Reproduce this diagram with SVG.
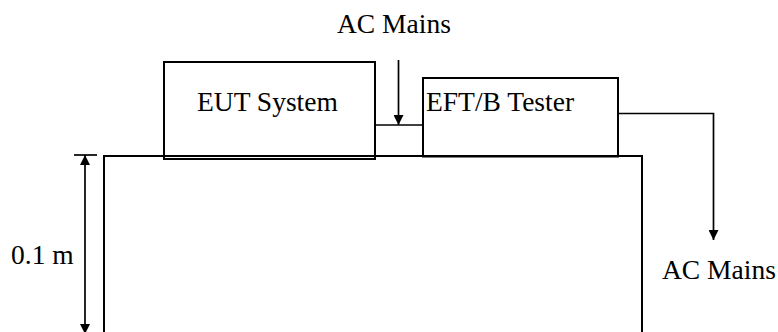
<svg xmlns="http://www.w3.org/2000/svg" width="778" height="332" viewBox="0 0 778 332">
  <style>
    .box { fill: none; stroke: #000; stroke-width: 2; }
    .wire { fill: none; stroke: #000; stroke-width: 1.7; }
    .lbl { font-family: "Liberation Serif", "Times New Roman", serif; font-size: 27.5px; fill: #000; }
  </style>
  <defs>
    <marker id="arr" viewBox="0 0 10 10" refX="10" refY="5" markerWidth="10" markerHeight="10" markerUnits="userSpaceOnUse" orient="auto">
      <path d="M0,0 L10,5 L0,10 Z" fill="#000"/>
    </marker>
  </defs>
  <rect width="778" height="332" fill="#fff"/>

  <g id="ground-plane">
    <path class="box" d="M104,340 V156 H642 V340"/>
  </g>
  <g id="eut-system">
    <rect class="box" x="164" y="62" width="211" height="97"/>
    <text class="lbl" x="197" y="111">EUT System</text>
  </g>
  <g id="eft-tester">
    <rect class="box" x="423" y="78" width="195" height="78.5"/>
    <text class="lbl" x="426" y="111">EFT/B Tester</text>
  </g>
  <g id="ac-mains-top">
    <text class="lbl" x="337" y="33">AC Mains</text>
  </g>
  <g id="ac-mains-right">
    <text class="lbl" x="662" y="279">AC Mains</text>
  </g>
  <g id="dimension">
    <text class="lbl" x="11" y="264">0.1 m</text>
  </g>

  <g id="connectors">
    <line class="wire" x1="375" y1="125" x2="423" y2="125"/>
    <line class="wire" x1="398.5" y1="60" x2="398.5" y2="125" marker-end="url(#arr)"/>
    <polyline class="wire" points="618,113.5 713.5,113.5 713.5,240" marker-end="url(#arr)"/>
    <line class="wire" x1="74" y1="155" x2="97" y2="155"/>
    <line class="wire" x1="85" y1="245" x2="85" y2="155" marker-end="url(#arr)"/>
    <line class="wire" x1="85" y1="245" x2="85" y2="334" marker-end="url(#arr)"/>
  </g>
</svg>
